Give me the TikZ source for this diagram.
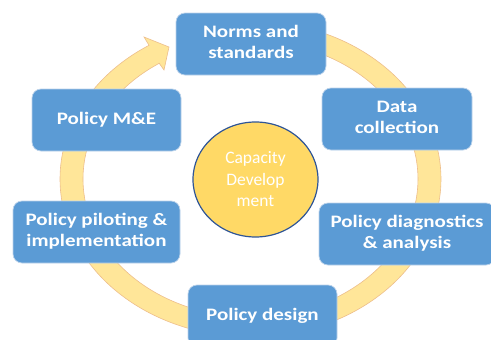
\documentclass[tikz,border=0pt]{standalone}
\usepackage{fontspec}
\setmainfont{Carlito}
\definecolor{boxblue}{HTML}{5B9BD5}
\definecolor{boxedge}{HTML}{BCD3EA}
\definecolor{ringfill}{HTML}{FFE699}
\definecolor{ringedge}{HTML}{EDBE8C}
\definecolor{hubfill}{HTML}{FFD966}
\definecolor{hubedge}{HTML}{2F5597}
\tikzset{
  stagebox/.style={draw=boxedge,line width=0.7pt,fill=boxblue,rounded corners=9pt,text=white,align=center,
    minimum height=62pt,inner sep=0pt,font=\fontsize{17.5}{20.5}\selectfont\bfseries},
  hub/.style={ellipse,draw=hubedge,line width=1.2pt,fill=hubfill,text=white,align=center,inner sep=0pt,
    minimum width=125pt,minimum height=115pt,font=\fontsize{17.5}{21.5}\selectfont},
}
\usetikzlibrary{shapes.geometric}
\newcommand{\wtxt}[2]{\scalebox{#1}[1]{\begin{tabular}{@{}c@{}}#2\end{tabular}}}
\begin{document}
\begin{tikzpicture}[x=1pt,y=-1pt]
\useasboundingbox (0,0) rectangle (491,340);
\clip (0,0) rectangle (491,340);
\draw[ringedge,line width=0.6pt,fill=ringfill,smooth]
  plot[domain=-85:237.8,samples=90] ({250.5+190.5*cos(\x)},{179+158*sin(\x)})
  -- (144,37) -- (169,47) -- (164,70) -- (159,63)
  -- plot[domain=237:-85,samples=90] ({250.5+167.5*cos(\x)},{179+138*sin(\x)}) -- cycle;
\node[hub] (hub) at (255.5,179.5) {Capacity\\Develop\\ment};
\node[stagebox,minimum width=150pt] (norms) at (251,44) {\wtxt{1.2}{Norms and\\standards}};
\node[stagebox,minimum width=150pt] (data) at (397,119) {\wtxt{1.2}{Data\\collection}};
\node[stagebox,minimum width=176pt] (diag) at (407,234) {\wtxt{1.2}{Policy diagnostics\\\& analysis}};
\node[stagebox,minimum width=149pt] (design) at (262.5,316) {\wtxt{1.2}{Policy design}};
\node[stagebox,minimum width=167pt] (pilot) at (96.5,232) {\wtxt{1.2}{Policy piloting \&\\implementation}};
\node[stagebox,minimum width=149pt] (me) at (106.5,120) {\wtxt{1.2}{Policy M\&E}};
\end{tikzpicture}
\end{document}
